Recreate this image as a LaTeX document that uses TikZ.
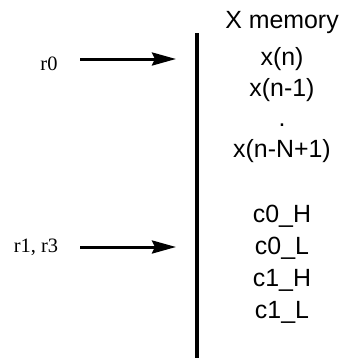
\documentclass[tikz,border=0pt]{standalone}
\usepackage{fontspec}
\setmainfont{Liberation Serif}
\setsansfont{Liberation Sans}
\usetikzlibrary{positioning,arrows.meta}
\tikzset{
  reg/.style={font=\fontsize{20.5}{24}\selectfont, inner sep=0pt, anchor=base},
  cell/.style={font=\sffamily\fontsize{25}{30}\selectfont, inner sep=0pt, anchor=base},
  ptr/.style={line width=3bp, -{Stealth[length=24bp, width=13bp, inset=3bp]}},
  bus/.style={line width=3.5bp},
}

\begin{document}
\begin{tikzpicture}[x=1bp, y=-1bp]
  \useasboundingbox (0,0) rectangle (360,358);
  % memory boundary
  \coordinate (top) at (197,33);
  \coordinate (bot) at (197,358);
  \draw[bus] (top) -- (bot);
  % X memory column
  \node[cell] (head) at (282,28)  {X memory};
  \node[cell] (x0)   at (282,65)  {x(n)};
  \node[cell] (x1)   at (282,96)  {x(n-1)};
  \node[cell] (dots) at (282,126) {.};
  \node[cell] (xN)   at (282,157) {x(n-N+1)};
  \node[cell] (c0h)  at (282,222) {c0\_H};
  \node[cell] (c0l)  at (282,254) {c0\_L};
  \node[cell] (c1h)  at (282,286) {c1\_H};
  \node[cell] (c1l)  at (282,318) {c1\_L};
  % address registers
  \node[reg] (r0)  at (49,70)  {r0};
  \node[reg] (r13) at (36,252) {r1, r3};
  \coordinate (s0) at (80,59);
  \coordinate (p0) at (176,59);
  \coordinate (s1) at (80,247);
  \coordinate (p1) at (176,247);
  \draw[ptr] (s0) -- (p0);
  \draw[ptr] (s1) -- (p1);
\end{tikzpicture}
\end{document}
